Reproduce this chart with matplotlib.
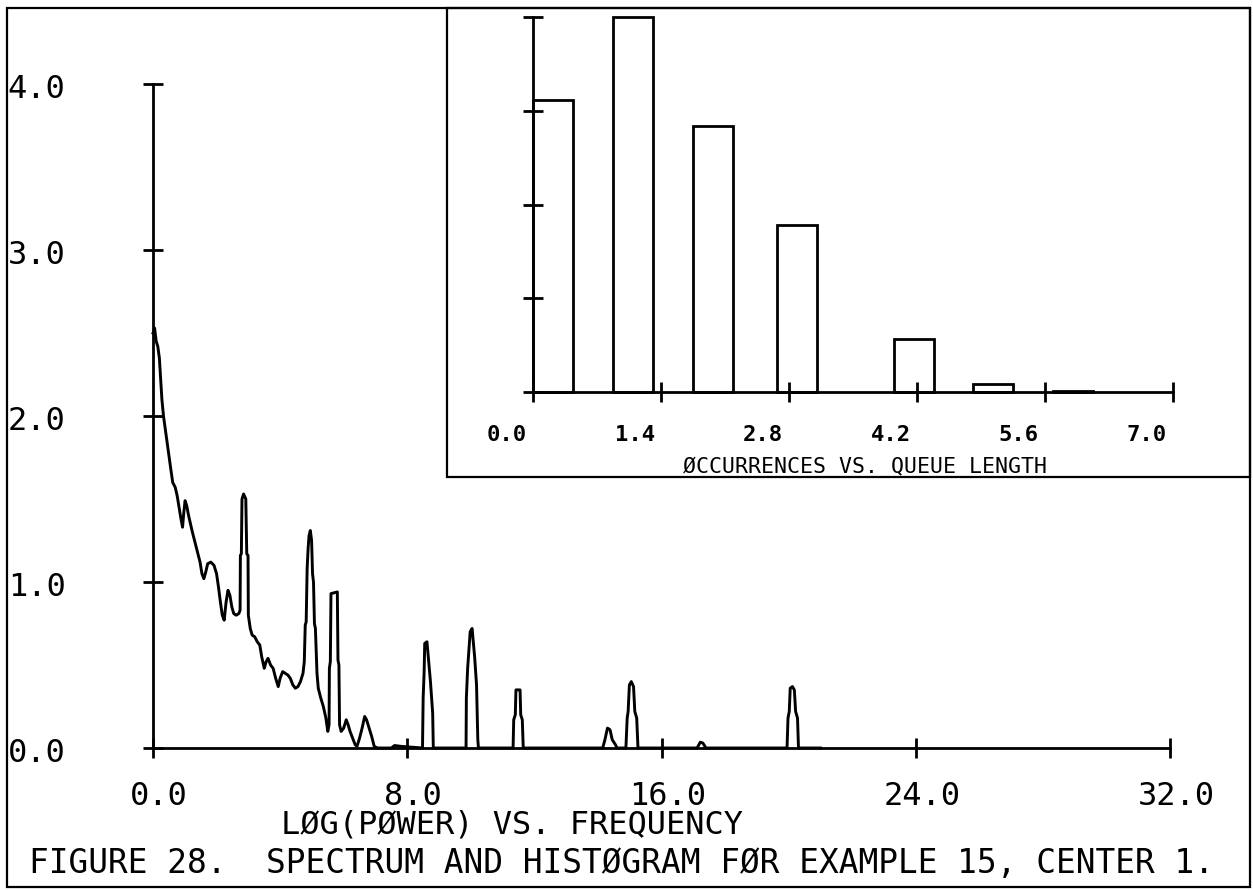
import matplotlib
matplotlib.use("Agg")
import matplotlib.pyplot as plt
import matplotlib.transforms as mtransforms
from matplotlib.patches import Rectangle

# spectrum trace (frequency, log power)
freq = [0.00, 0.05, 0.10, 0.15, 0.20, 0.24, 0.28, 0.33, 0.38, 0.44, 0.50, 0.56,
        0.62, 0.70, 0.76, 0.82, 0.88, 0.93, 0.97, 1.01, 1.06, 1.12, 1.18, 1.24,
        1.32, 1.40, 1.48, 1.54, 1.60, 1.66, 1.72, 1.82, 1.92, 2.00, 2.06, 2.12,
        2.18, 2.24, 2.30, 2.36, 2.42, 2.48, 2.54, 2.62, 2.70, 2.74,
        2.75, 2.78, 2.80, 2.85, 2.92, 2.95, 2.99, 3.00,
        3.06, 3.12, 3.20, 3.28, 3.36, 3.42, 3.50, 3.56, 3.62, 3.70, 3.78, 3.86,
        3.94, 4.00, 4.08, 4.16, 4.24, 4.32, 4.40, 4.48, 4.56, 4.64, 4.72,
        4.76, 4.79, 4.82, 4.85, 4.88, 4.91, 4.95, 4.99, 5.02, 5.05, 5.08, 5.11,
        5.16, 5.20, 5.28, 5.36, 5.44, 5.50,
        5.54, 5.55, 5.58, 5.60, 5.80, 5.82, 5.85, 5.87,
        5.92, 6.00, 6.08, 6.14, 6.20, 6.28, 6.36, 6.42, 6.50, 6.58, 6.66, 6.72,
        6.80, 6.88, 6.96, 7.06, 7.50, 7.60, 7.80, 8.48,
        8.50, 8.53, 8.55, 8.62, 8.70, 8.73, 8.80, 8.82,
        9.85, 9.86, 9.90, 9.98, 10.04, 10.12, 10.18, 10.22, 10.24,
        11.33, 11.35, 11.40, 11.42, 11.55, 11.57, 11.62, 11.65,
        14.15, 14.22, 14.30, 14.38, 14.45, 14.55, 14.60,
        14.88, 14.92, 14.95, 14.99, 15.05, 15.12, 15.16, 15.22, 15.26,
        17.12, 17.22, 17.30, 17.40,
        19.95, 19.98, 20.02, 20.05, 20.12, 20.18, 20.22, 20.28, 20.31, 21.0]
logp = [2.50, 2.53, 2.45, 2.42, 2.35, 2.22, 2.10, 2.00, 1.93, 1.85, 1.76, 1.68,
        1.60, 1.57, 1.52, 1.45, 1.38, 1.33, 1.42, 1.49, 1.46, 1.40, 1.35, 1.30,
        1.24, 1.18, 1.12, 1.05, 1.02, 1.06, 1.11, 1.12, 1.10, 1.05, 0.97, 0.88,
        0.80, 0.77, 0.88, 0.95, 0.92, 0.85, 0.81, 0.80, 0.81, 0.83,
        1.16, 1.17, 1.50, 1.53, 1.50, 1.17, 1.16, 0.80,
        0.72, 0.68, 0.67, 0.64, 0.62, 0.55, 0.48, 0.52, 0.54, 0.50, 0.48, 0.42,
        0.37, 0.42, 0.46, 0.45, 0.44, 0.42, 0.38, 0.36, 0.37, 0.40, 0.45,
        0.52, 0.74, 0.76, 1.08, 1.20, 1.28, 1.31, 1.25, 1.05, 1.00, 0.75, 0.72,
        0.45, 0.36, 0.30, 0.25, 0.18, 0.10,
        0.14, 0.48, 0.52, 0.93, 0.94, 0.53, 0.50, 0.14,
        0.10, 0.12, 0.17, 0.14, 0.10, 0.06, 0.02, 0.01, 0.06, 0.12, 0.19, 0.17,
        0.12, 0.07, 0.01, 0.00, 0.00, 0.015, 0.01, 0.00,
        0.30, 0.45, 0.63, 0.64, 0.47, 0.40, 0.21, 0.00,
        0.00, 0.30, 0.48, 0.70, 0.72, 0.55, 0.38, 0.05, 0.00,
        0.00, 0.17, 0.20, 0.35, 0.35, 0.20, 0.17, 0.00,
        0.00, 0.05, 0.12, 0.11, 0.05, 0.02, 0.00,
        0.00, 0.18, 0.22, 0.38, 0.40, 0.37, 0.22, 0.18, 0.00,
        0.00, 0.035, 0.03, 0.00,
        0.00, 0.18, 0.22, 0.36, 0.37, 0.35, 0.22, 0.18, 0.00, 0.00]

main_xticks = [0.0, 8.0, 16.0, 24.0, 32.0]
main_xlabels = ["0.0", "8.0", "16.0", "24.0", "32.0"]
main_yticks = [0.0, 1.0, 2.0, 3.0, 4.0]
main_ylabels = ["0.0", "1.0", "2.0", "3.0", "4.0"]

# histogram of queue length
bar_left = [0.0, 0.875, 1.75, 2.67, 3.95, 4.81, 5.69]
bar_height = [3.11, 4.0, 2.84, 1.78, 0.57, 0.09, 0.015]
bar_width = 0.4375
hist_xticks = [0.0, 1.4, 2.8, 4.2, 5.6, 7.0]
hist_xlabels = ["0.0", "1.4", "2.8", "4.2", "5.6", "7.0"]
hist_yticks = [0, 1, 2, 3, 4]

W, H = 1253, 890
fig = plt.figure(figsize=(W / 100, H / 100), dpi=100)
plt.rcParams['font.family'] = ['DejaVu Sans Mono', 'DejaVu Sans']


def frac(x0, y0, x1, y1):
    # pixel box (top-left origin) -> figure fraction rect
    return [x0 / W, 1 - y1 / H, (x1 - x0) / W, (y1 - y0) / H]


# outer frame and inset frame
fig.add_artist(Rectangle((7 / W, 1 - 887 / H), 1243 / W, 879 / H, transform=fig.transFigure,
                         fill=False, lw=1.6, ec='black'))
fig.add_artist(Rectangle((447 / W, 1 - 477 / H), 803 / W, 469 / H, transform=fig.transFigure,
                         fill=False, lw=1.6, ec='black'))

# main spectrum
ax = fig.add_axes(frac(153, 84, 1170, 748))
ax.plot(freq, logp, color='black', lw=2.1, clip_on=False)
ax.set_xlim(0, 32)
ax.set_ylim(0, 4)
for s in ['top', 'right']:
    ax.spines[s].set_visible(False)
for s in ['left', 'bottom']:
    ax.spines[s].set_linewidth(2.0)
ax.set_xticks(main_xticks)
ax.set_xticklabels(main_xlabels)
ax.set_yticks(main_yticks)
ax.set_yticklabels(main_ylabels, ha='left')
ax.tick_params(direction='inout', length=15, width=2.0, labelsize=23)
ax.tick_params(axis='x', pad=16)
ax.tick_params(axis='y', pad=97)
off = mtransforms.ScaledTranslation(0.06, 0, fig.dpi_scale_trans)
for lab in ax.get_xticklabels():
    lab.set_transform(lab.get_transform() + off)
for lab in ax.get_yticklabels():
    lab.set_transform(lab.get_transform()
                      + mtransforms.ScaledTranslation(0, -0.02, fig.dpi_scale_trans))
ax.patch.set_visible(False)

fig.text(512 / W, 1 - 825 / H, "LØG(PØWER) VS. FREQUENCY", ha='center', va='center', fontsize=23)
fig.text(29 / W, 1 - 863 / H, "FIGURE 28.  SPECTRUM AND HISTØGRAM FØR EXAMPLE 15, CENTER 1.",
         ha='left', va='center', fontsize=23.6)

# inset histogram
ax2 = fig.add_axes(frac(533, 17, 1173, 392))
ax2.bar(bar_left, bar_height, width=bar_width, align='edge', fill=False,
        edgecolor='black', linewidth=2.0, clip_on=False)
ax2.set_xlim(0, 7.0)
ax2.set_ylim(0, 4)
for s in ['top', 'right']:
    ax2.spines[s].set_visible(False)
for s in ['left', 'bottom']:
    ax2.spines[s].set_linewidth(2.0)
ax2.set_xticks(hist_xticks)
ax2.set_xticklabels(hist_xlabels, fontweight='bold')
ax2.set_yticks(hist_yticks)
ax2.set_yticklabels([])
ax2.tick_params(direction='inout', length=15, width=2.0, labelsize=16)
ax2.tick_params(axis='x', pad=16)
off2 = mtransforms.ScaledTranslation(-0.26, 0, fig.dpi_scale_trans)
for lab in ax2.get_xticklabels():
    lab.set_transform(lab.get_transform() + off2)
ax2.patch.set_visible(False)

fig.text(865 / W, 1 - 466 / H, "ØCCURRENCES VS. QUEUE LENGTH", ha='center', va='center',
         fontsize=15.5)

fig.savefig("out.png", dpi=100)
